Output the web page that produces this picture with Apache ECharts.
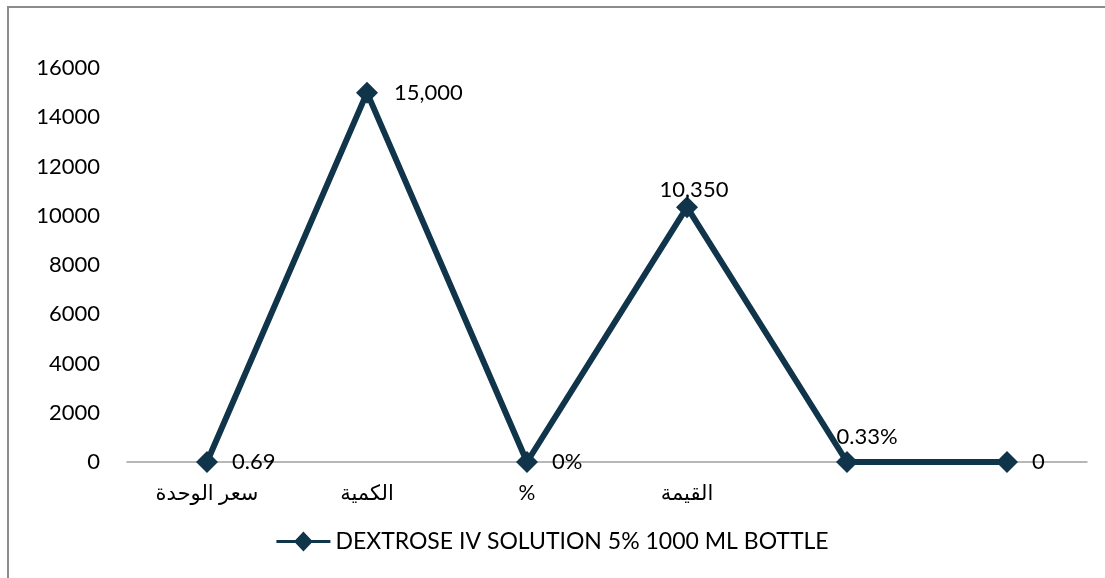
<!DOCTYPE html>
<html><head><meta charset="utf-8">
<script src="https://cdn.jsdelivr.net/npm/echarts@6/dist/echarts.min.js"></script>
<style>html,body{margin:0;padding:0;background:#fff}#c{width:1105px;height:578px}</style>
</head><body><div id="c"></div>
<script>
const categories = ["سعر الوحدة", "الكمية", "%", "القيمة", "", ""];
const values = [0.69, 15000, 0, 10350, 0.0033, 0];
const pointLabels = ["0.69", "15,000", "0%", "10,350", "0.33%", "0"];
const seriesName = "DEXTROSE IV SOLUTION 5% 1000 ML BOTTLE";
const yTicks = { min: 0, max: 16000, interval: 2000 };

const FONT = "Lato, 'DejaVu Sans', sans-serif";
const color = '#10344a';
const labelPos = ['right', 'right', 'right', 'top', 'top', 'right'];
const labelOff = [[9, 0], [11, 0], [9, 0], [7, 10], [20, 2], [9, 0]];

const chart = echarts.init(document.getElementById('c'), null, { renderer: 'canvas' });
chart.setOption({
  animation: false,
  graphic: [{
    type: 'rect', shape: { x: 8, y: 7, width: 1200, height: 700 },
    style: { fill: 'none', stroke: '#8c8c8c', lineWidth: 2 }, silent: true
  }],
  grid: { left: 127, right: 18, top: 68, bottom: 116, containLabel: false },
  legend: {
    bottom: 20, left: 'center', itemWidth: 54, itemHeight: 20, itemGap: 10,
    textStyle: { fontFamily: FONT, fontSize: 23, color: '#000' },
    data: [{ name: seriesName, icon: 'path://M0,8.5 L19,8.5 L27,0 L35,8.5 L54,8.5 L54,11.5 L35,11.5 L27,20 L19,11.5 L0,11.5 Z' }]
  },
  xAxis: {
    type: 'category', data: categories, boundaryGap: true,
    axisLine: { lineStyle: { color: '#a0a0a0', width: 1.5 } },
    axisTick: { show: false },
    axisLabel: { fontFamily: FONT, fontSize: 21, color: '#000', margin: 21, interval: 0 }
  },
  yAxis: {
    type: 'value', min: yTicks.min, max: yTicks.max, interval: yTicks.interval,
    axisLine: { show: false }, axisTick: { show: false }, splitLine: { show: false },
    axisLabel: { fontFamily: FONT, fontSize: 22, color: '#000', margin: 27, formatter: v => String(v) }
  },
  series: [{
    name: seriesName, type: 'line', color: color,
    symbol: 'diamond', symbolSize: 22,
    lineStyle: { width: 6, color: color },
    itemStyle: { color: color },
    data: values.map((v, i) => ({
      value: v,
      label: {
        show: true, position: labelPos[i], offset: labelOff[i], formatter: pointLabels[i],
        fontFamily: FONT, fontSize: 22, color: '#000'
      }
    }))
  }]
});
</script></body></html>
